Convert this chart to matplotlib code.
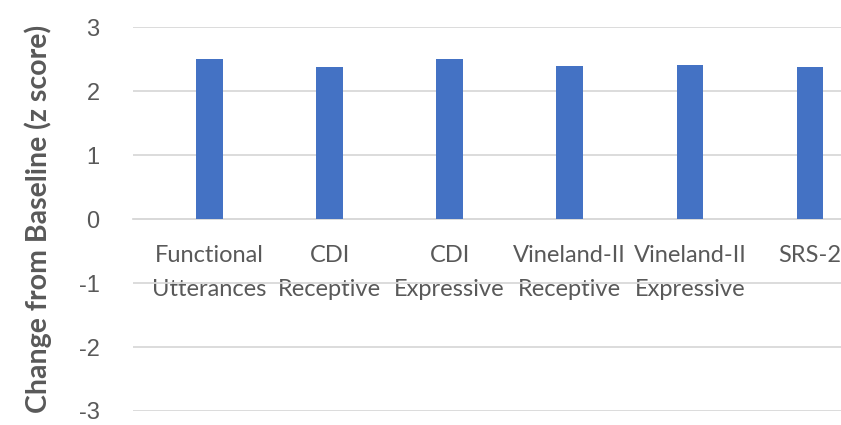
import matplotlib
matplotlib.use("Agg")
import matplotlib.pyplot as plt

categories = ["Functional\nUtterances", "CDI\nReceptive", "CDI\nExpressive",
              "Vineland-II\nReceptive", "Vineland-II\nExpressive", "SRS-2"]
values = [2.51, 2.375, 2.51, 2.39, 2.41, 2.375]
yticks = [-3, -2, -1, 0, 1, 2, 3]

fig = plt.figure(figsize=(8.41, 4.25), dpi=100)
ax = fig.add_axes([0.158, 0.033, 0.842, 0.903])
ax.spines["bottom"].set_position(("data", 0))

x = list(range(len(categories)))
ax.bar(x, values, width=0.222, color="#4472C4", zorder=3)
ax.set_xlim(-0.637, 5.258)
ax.set_ylim(-3, 3)
ax.set_yticks(yticks)
ax.set_yticklabels([str(v) for v in yticks])
for lab in ax.get_yticklabels():
    lab.set_fontfamily("Liberation Sans")
    lab.set_fontsize(17)
    lab.set_color("#595959")
ax.yaxis.grid(True, color="#D9D9D9", linewidth=1.3, zorder=0)
ax.tick_params(axis="y", length=0, pad=24)
ax.set_xticks(x)
ax.set_xticklabels(categories)
for lab in ax.get_xticklabels():
    lab.set_fontfamily("Lato")
    lab.set_fontsize(17)
    lab.set_color("#595959")
    lab.set_linespacing(1.75)
ax.tick_params(axis="x", length=0, pad=19)
for s in ["top", "right", "left"]:
    ax.spines[s].set_visible(False)
ax.spines["bottom"].set_color("#D9D9D9")
ax.spines["bottom"].set_linewidth(1.3)
ax.set_ylabel("Change from Baseline (z score)", fontsize=20.5, fontweight="bold",
              color="#595959", family="Lato")
ax.yaxis.set_label_coords(-0.114, 0.5)

fig.savefig("out.png", dpi=100)
